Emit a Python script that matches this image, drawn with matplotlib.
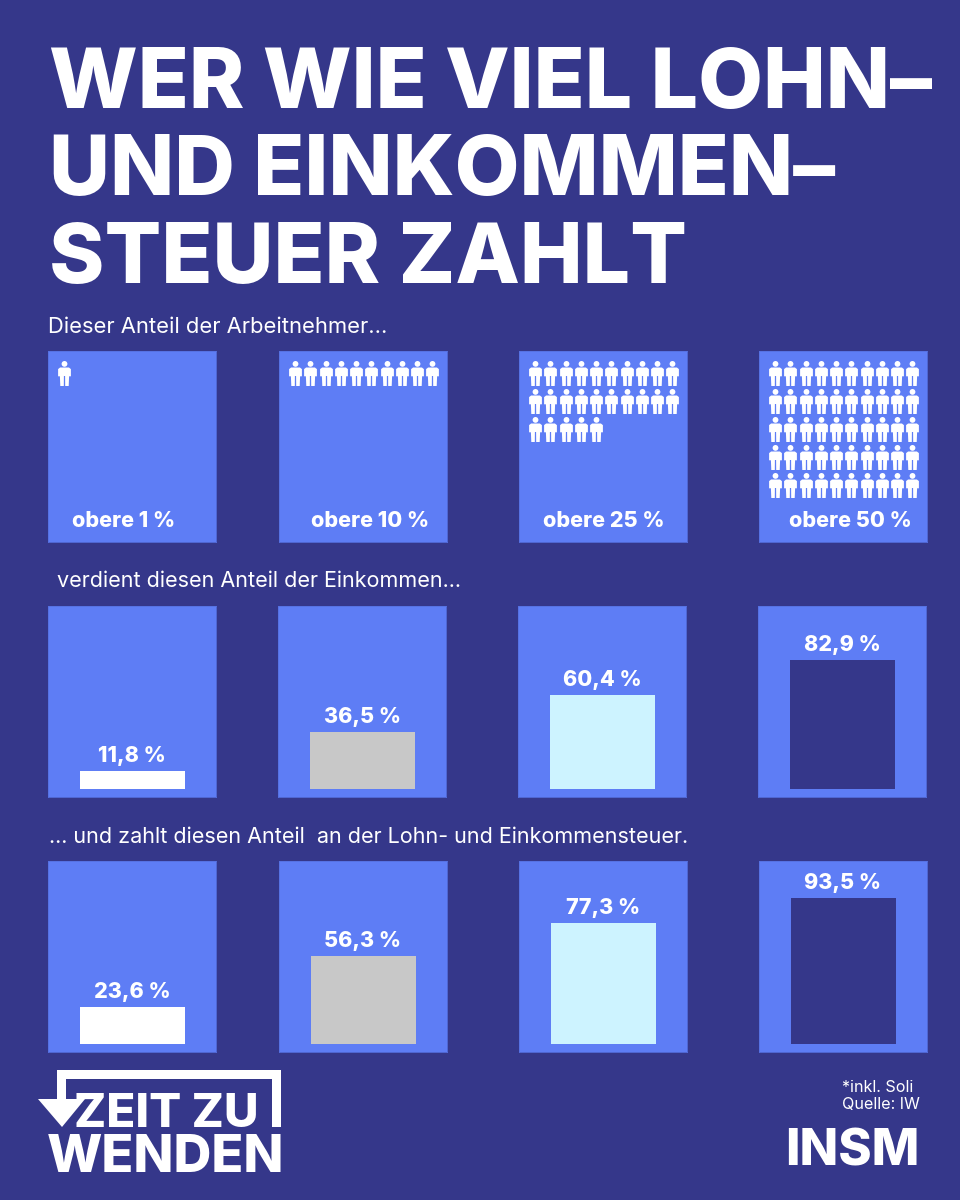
import matplotlib
matplotlib.use('Agg')
import matplotlib.pyplot as plt
from matplotlib.path import Path
from matplotlib.patches import Polygon

plt.rcParams['font.family'] = ['Inter', 'DejaVu Sans']

BG = '#35378a'
PANEL = '#5e7df5'
EDGE = '#5570e0'
WHITE = '#ffffff'

top_labels = ['obere 1 %', 'obere 10 %', 'obere 25 %', 'obere 50 %']
people_counts = [1, 10, 25, 50]
income_share = [11.8, 36.5, 60.4, 82.9]
tax_share = [23.6, 56.3, 77.3, 93.5]
bar_colors = ['#ffffff', '#c8c8c8', '#cdf3ff', BG]

title_lines = ['WER WIE VIEL LOHN–', 'UND EINKOMMEN–', 'STEUER ZAHLT']
title_baselines = [108, 195, 283]

PX_PER_PCT = 1.56
PANEL_W = 168
PANEL_H = 191


def px_axes(fig, left, top, w, h):
    ax = fig.add_axes([left / 960, 1 - (top + h) / 1200, w / 960, h / 1200])
    ax.set_xticks([])
    ax.set_yticks([])
    return ax


def person_marker():
    # drawn in a box of 13 x 25 px, centre at 0, then scaled to +-1
    head = Path.circle((0, 9.6), 2.9)
    body = [(-4.4, 6.0), (4.4, 6.0), (6.4, 4.4), (6.4, -2.8), (4.6, -2.8), (4.2, -12.5), (0.7, -12.5),
            (0.6, -2.5), (-0.6, -2.5), (-0.7, -12.5), (-4.2, -12.5), (-4.6, -2.8), (-6.4, -2.8),
            (-6.4, 4.4), (-4.4, 6.0)]
    parts = Path(body, closed=True)
    path = Path.make_compound_path(head, parts)
    return Path(path.vertices / 12.5, path.codes)


def panel(fig, left, top):
    ax = px_axes(fig, left, top, PANEL_W, PANEL_H)
    ax.set_facecolor(PANEL)
    for s in ax.spines.values():
        s.set_color(EDGE)
        s.set_linewidth(0.6)
    return ax


def bar_row(fig, lefts, top, values):
    for left, val, col in zip(lefts, values, bar_colors):
        ax = panel(fig, left, top)
        ax.set_xlim(0, PANEL_W)
        ax.set_ylim(-8 / PX_PER_PCT, (PANEL_H - 8) / PX_PER_PCT)
        ax.bar([84.5], [val], width=105.5, color=col, linewidth=0)
        ax.text(84, val + 9 / PX_PER_PCT, f'{val:.1f} %'.replace('.', ','), color=WHITE,
                fontsize=15.5, fontweight=800, ha='center', va='baseline')


fig = plt.figure(figsize=(9.6, 12), dpi=100, facecolor=BG)

bg = fig.add_axes([0, 0, 1, 1])
bg.set_xlim(0, 960)
bg.set_ylim(1200, 0)
bg.axis('off')

for line, y in zip(title_lines, title_baselines):
    bg.text(49, y, line, color=WHITE, fontsize=60.4, fontweight=800, va='baseline')

bg.text(48, 333, 'Dieser Anteil der Arbeitnehmer...', color=WHITE, fontsize=15.8, va='baseline')
bg.text(57, 587, 'verdient diesen Anteil der Einkommen...', color=WHITE, fontsize=15.5, va='baseline')
bg.text(49, 843, '... und zahlt diesen Anteil  an der Lohn- und Einkommensteuer.', color=WHITE,
        fontsize=15.5, va='baseline')

# first row: people icons
person = person_marker()
row1_lefts = [48, 279, 519, 759]
label_centers = [76, 91, 85, 91]
for left, n, label, cx in zip(row1_lefts, people_counts, top_labels, label_centers):
    ax = panel(fig, left, 351)
    ax.set_xlim(0, PANEL_W)
    ax.set_ylim(PANEL_H, 0)
    xs = [16 + 15.26 * (i % 10) for i in range(n)]
    ys = [21.5 + 28.2 * (i // 10) for i in range(n)]
    ax.scatter(xs, ys, marker=person, s=324, color=WHITE, linewidths=0)
    ax.text(cx, 176, label, color=WHITE, fontsize=15.5, fontweight=800, ha='center', va='baseline')

bar_row(fig, [48, 278, 518, 758], 606, income_share)
bar_row(fig, [48, 279, 519, 759], 861, tax_share)

# logo
bg.add_patch(Polygon([(57, 1099), (57, 1070), (281, 1070), (281, 1127), (272, 1127), (272, 1079),
                      (66, 1079), (66, 1099)], color=WHITE, linewidth=0))
bg.add_patch(Polygon([(38, 1099), (85, 1099), (62, 1127)], color=WHITE, linewidth=0))
bg.text(74, 1127, 'ZEIT ZU', color=WHITE, fontsize=34.3, fontweight=800, va='baseline')
bg.text(47, 1172, 'WENDEN', color=WHITE, fontsize=37.7, fontweight=800, va='baseline')

bg.text(842, 1092, '*inkl. Soli', color=WHITE, fontsize=11.6, va='baseline')
bg.text(842, 1109, 'Quelle: IW', color=WHITE, fontsize=11.6, va='baseline')
bg.text(785, 1165, 'INSM', color=WHITE, fontsize=36.4, fontweight=800, va='baseline')

fig.savefig('out.png', dpi=100, facecolor=BG)
plt.close(fig)
